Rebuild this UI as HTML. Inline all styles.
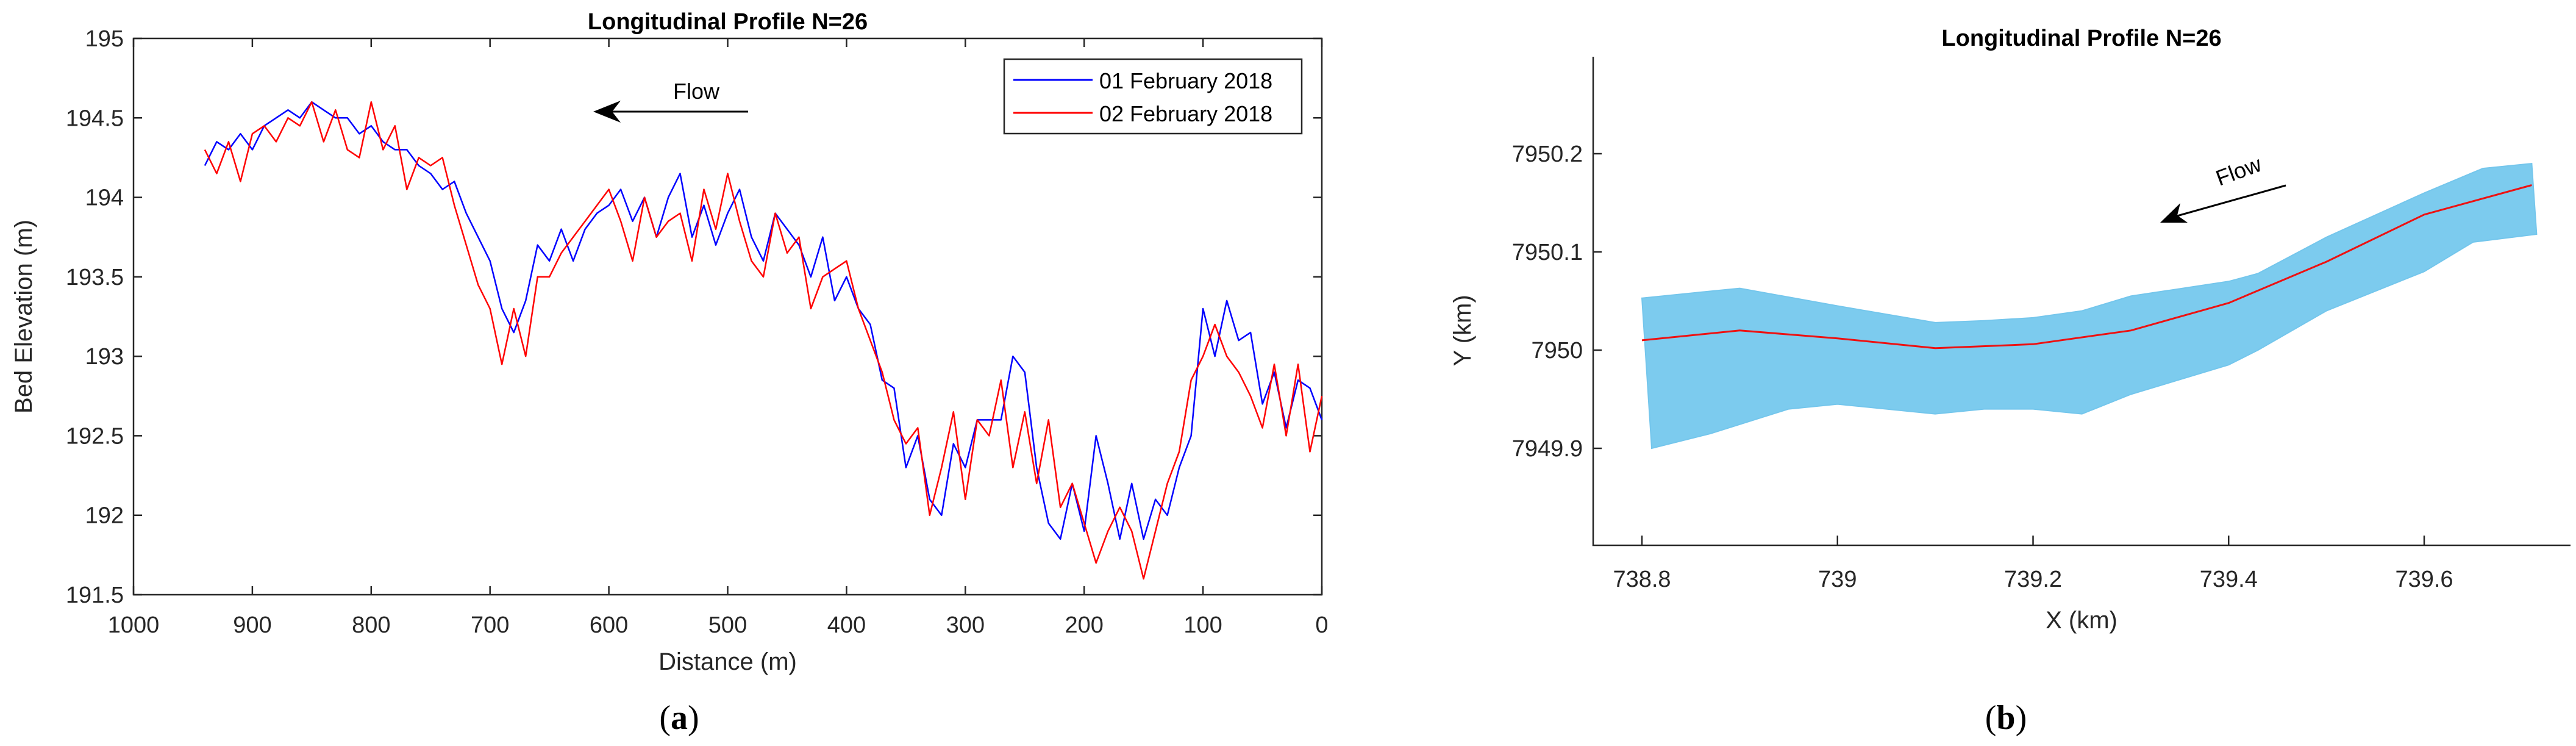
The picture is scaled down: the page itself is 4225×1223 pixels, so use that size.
<!DOCTYPE html>
<html><head><meta charset="utf-8">
<style>
html,body{margin:0;padding:0;background:#fff;}
svg{display:block;font-family:"Liberation Sans",sans-serif;}
</style></head>
<body>
<svg id="fig" width="4225" height="1223" viewBox="0 0 4225 1223" xmlns="http://www.w3.org/2000/svg">
<g id="chartA"></g>
<g id="chartB"></g>
<text x="1114" y="1195" font-family="Liberation Serif,serif" font-size="56" text-anchor="middle">(<tspan font-weight="bold">a</tspan>)</text>
<text x="3290" y="1195" font-family="Liberation Serif,serif" font-size="56" text-anchor="middle">(<tspan font-weight="bold">b</tspan>)</text>
</svg>
<script>
const distA = [940,930,920,910,900,890,880,870,860,850,840,830,820,810,800,790,780,770,760,750,740,730,720,710,700,690,680,670,660,650,640,630,620,610,600,590,580,570,560,550,540,530,520,510,500,490,480,470,460,450,440,430,420,410,400,390,380,370,360,350,340,330,320,310,300,290,280,270,260,250,240,230,220,210,200,190,180,170,160,150,140,130,120,110,100,90,80,70,60,50,40,30,20,10,0];
const elevFeb01 = [194.2,194.35,194.3,194.4,194.3,194.45,194.5,194.55,194.5,194.6,194.55,194.5,194.5,194.4,194.45,194.35,194.3,194.3,194.2,194.15,194.05,194.1,193.9,193.75,193.6,193.3,193.15,193.35,193.7,193.6,193.8,193.6,193.8,193.9,193.95,194.05,193.85,194.0,193.75,194.0,194.15,193.75,193.95,193.7,193.9,194.05,193.75,193.6,193.9,193.8,193.7,193.5,193.75,193.35,193.5,193.3,193.2,192.85,192.8,192.3,192.5,192.1,192.0,192.45,192.3,192.6,192.6,192.6,193.0,192.9,192.3,191.95,191.85,192.2,191.9,192.5,192.2,191.85,192.2,191.85,192.1,192.0,192.3,192.5,193.3,193.0,193.35,193.1,193.15,192.7,192.9,192.55,192.85,192.8,192.6];
const elevFeb02 = [194.3,194.15,194.35,194.1,194.4,194.45,194.35,194.5,194.45,194.6,194.35,194.55,194.3,194.25,194.6,194.3,194.45,194.05,194.25,194.2,194.25,193.95,193.7,193.45,193.3,192.95,193.3,193.0,193.5,193.5,193.65,193.75,193.85,193.95,194.05,193.85,193.6,194.0,193.75,193.85,193.9,193.6,194.05,193.8,194.15,193.85,193.6,193.5,193.9,193.65,193.75,193.3,193.5,193.55,193.6,193.3,193.1,192.9,192.6,192.45,192.55,192.0,192.3,192.65,192.1,192.6,192.5,192.85,192.3,192.65,192.2,192.6,192.05,192.2,191.95,191.7,191.9,192.05,191.9,191.6,191.9,192.2,192.4,192.85,193.0,193.2,193.0,192.9,192.75,192.55,192.95,192.5,192.95,192.4,192.75];
const xTicksA = [1000,900,800,700,600,500,400,300,200,100,0];
const yTicksA = [191.5,192,192.5,193,193.5,194,194.5,195];
const yTickLabelsA = ["191.5","192","192.5","193","193.5","194","194.5","195"];

const centerX = [738.8,738.9,739.0,739.1,739.2,739.3,739.4,739.5,739.6,739.71];
const centerY = [7950.01,7950.02,7950.012,7950.002,7950.006,7950.02,7950.048,7950.09,7950.138,7950.168];
const bankTopX = [738.8,738.85,738.9,739.0,739.1,739.15,739.2,739.25,739.3,739.4,739.43,739.5,739.6,739.66,739.71];
const bankTopY = [7950.053,7950.058,7950.063,7950.045,7950.028,7950.03,7950.033,7950.04,7950.055,7950.07,7950.078,7950.115,7950.16,7950.185,7950.19];
const bankBotX = [739.715,739.65,739.6,739.5,739.43,739.4,739.3,739.25,739.2,739.15,739.1,739.0,738.95,738.87,738.81];
const bankBotY = [7950.118,7950.11,7950.08,7950.04,7950.0,7949.985,7949.955,7949.935,7949.94,7949.94,7949.935,7949.945,7949.94,7949.915,7949.9];
const xTicksB = [738.8,739,739.2,739.4,739.6];
const xTickLabelsB = ["738.8","739","739.2","739.4","739.6"];
const yTicksB = [7949.9,7950,7950.1,7950.2];
const yTickLabelsB = ["7949.9","7950","7950.1","7950.2"];

const NS="http://www.w3.org/2000/svg";
function mk(parent,tag,attrs,text){const e=document.createElementNS(NS,tag);for(const k in attrs)e.setAttribute(k,attrs[k]);if(text!==undefined)e.textContent=text;parent.appendChild(e);return e;}

// ---------- Chart A ----------
const A=document.getElementById('chartA');
const aL=219,aR=2168,aT=63,aB=975;
const xA=d=>aL+(1000-d)/1000*(aR-aL);
const yA=v=>aB-(v-191.5)/3.5*(aB-aT);
let box=mk(A,'rect',{x:aL,y:aT,width:aR-aL,height:aB-aT,fill:'#fff',stroke:'#262626','stroke-width':2.5});


xTicksA.forEach(t=>{
  const x=xA(t);
  let l=mk(A,'path',{d:`M${x},${aB}v-14M${x},${aT}v14`,stroke:'#262626','stroke-width':2.5});
  
  
  let tx=mk(A,'text',{x:x,y:1037,'font-size':38,'text-anchor':'middle',fill:'#262626'},String(t));
  
  
});
yTicksA.forEach((t,i)=>{
  const y=yA(t);
  let l=mk(A,'path',{d:`M${aL},${y}h14M${aR},${y}h-14`,stroke:'#262626','stroke-width':2.5});
  
  
  let tx=mk(A,'text',{x:203,y:y+13,'font-size':38,'text-anchor':'end',fill:'#262626'},yTickLabelsA[i]);
  
  
});
function line(g,xs,ys,fx,fy,color,w,name){
  const d=xs.map((x,i)=>(i?'L':'M')+fx(x).toFixed(1)+','+fy(ys[i]).toFixed(1)).join('');
  let p=mk(g,'path',{d:d,fill:'none',stroke:color,'stroke-width':w,'stroke-linejoin':'round'});
  
  
}
line(A,distA,elevFeb01,xA,yA,'#0000ff',2.5,'series-01-february-2018');
line(A,distA,elevFeb02,xA,yA,'#ff0000',2.5,'series-02-february-2018');
let t1=mk(A,'text',{x:(aL+aR)/2,y:48,'font-size':38,'font-weight':'bold','text-anchor':'middle',fill:'#000'},'Longitudinal Profile N=26');


let xl=mk(A,'text',{x:(aL+aR)/2,y:1098,'font-size':40,'text-anchor':'middle',fill:'#262626'},'Distance (m)');


let yl=mk(A,'text',{x:0,y:0,'font-size':40,'text-anchor':'middle',fill:'#262626',transform:`translate(52,${(aT+aB)/2}) rotate(-90)`},'Bed Elevation (m)');


let lg=mk(A,'g',{});


mk(lg,'rect',{x:1647,y:97,width:488,height:122,fill:'#fff',stroke:'#262626','stroke-width':2.5});
mk(lg,'path',{d:'M1662,131h130',stroke:'#0000ff','stroke-width':3});
let le1=mk(lg,'text',{x:1803,y:145,'font-size':36,fill:'#000'},'01 February 2018');


mk(lg,'path',{d:'M1662,185h130',stroke:'#ff0000','stroke-width':3});
let le2=mk(lg,'text',{x:1803,y:199,'font-size':36,fill:'#000'},'02 February 2018');


let fa=mk(A,'g',{});


mk(fa,'path',{d:'M1227,183H990',stroke:'#000','stroke-width':3});
mk(fa,'path',{d:'M973,183l45,-18l-14,18l14,18z',fill:'#000'});
mk(fa,'text',{x:1142,y:162,'font-size':36,'text-anchor':'middle',fill:'#000'},'Flow');

// ---------- Chart B ----------
const B=document.getElementById('chartB');
const bL=2613,bR=4216,bT=93,bB=894;
const xB=v=>2693+(v-738.8)/0.2*320.75;
const yB=v=>574-(v-7950)/0.1*161;
const polyX=bankTopX.concat(bankBotX), polyY=bankTopY.concat(bankBotY);
let band=mk(B,'path',{d:polyX.map((x,i)=>(i?'L':'M')+xB(x).toFixed(1)+','+yB(polyY[i]).toFixed(1)).join('')+'Z',fill:'#7ccbee',stroke:'#74c6ec','stroke-width':2});


line(B,centerX,centerY,xB,yB,'#ee1111',3,'profile-line');
let ax=mk(B,'path',{d:`M${bL},${bT}V${bB}H${bR}`,fill:'none',stroke:'#262626','stroke-width':2.5});


xTicksB.forEach((t,i)=>{
  const x=xB(t);
  let l=mk(B,'path',{d:`M${x},${bB}v-16`,stroke:'#262626','stroke-width':2.5});
  
  
  let tx=mk(B,'text',{x:x,y:962,'font-size':38,'text-anchor':'middle',fill:'#262626'},xTickLabelsB[i]);
  
  
});
yTicksB.forEach((t,i)=>{
  const y=yB(t);
  let l=mk(B,'path',{d:`M${bL},${y}h14`,stroke:'#262626','stroke-width':2.5});
  
  
  let tx=mk(B,'text',{x:2596,y:y+13,'font-size':38,'text-anchor':'end',fill:'#262626'},yTickLabelsB[i]);
  
  
});
let t2=mk(B,'text',{x:3414,y:75,'font-size':38,'font-weight':'bold','text-anchor':'middle',fill:'#000'},'Longitudinal Profile N=26');


let xl2=mk(B,'text',{x:3414,y:1030,'font-size':40,'text-anchor':'middle',fill:'#262626'},'X (km)');


let yl2=mk(B,'text',{x:0,y:0,'font-size':40,'text-anchor':'middle',fill:'#262626',transform:`translate(2412,${yB(7950.02)}) rotate(-90)`},'Y (km)');


let fb=mk(B,'g',{});


mk(fb,'path',{d:'M3749,304L3560,357',stroke:'#000','stroke-width':3});
mk(fb,'path',{d:'M3543,365l33,-32l-5,20l17,12z',fill:'#000'});
mk(fb,'text',{x:0,y:0,'font-size':36,fill:'#000',transform:'translate(3640,305) rotate(-20)'},'Flow');
</script>
</body></html>
